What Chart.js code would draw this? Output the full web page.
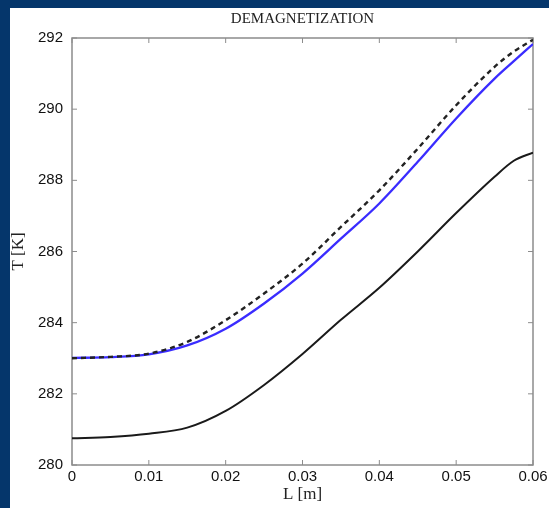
<!DOCTYPE html>
<html>
<head>
<meta charset="utf-8">
<script src="https://cdn.jsdelivr.net/npm/chart.js"></script>
<style>
body{margin:0;background:#05366b;width:549px;height:508px;overflow:hidden;}
#panel{position:absolute;left:10px;top:8px;width:539px;height:500px;background:#fff;}
</style>
</head>
<body>
<div id="panel"><canvas id="myChart" width="539" height="500"></canvas></div>
<script>
// data
const lengths = [0, 0.005, 0.01, 0.015, 0.02, 0.025, 0.03, 0.035, 0.04, 0.045, 0.05, 0.055, 0.0575, 0.06];
const tempBlue = [283.01, 283.03, 283.11, 283.36, 283.83, 284.54, 285.38, 286.36, 287.35, 288.52, 289.74, 290.86, 291.35, 291.83];
const tempDashed = [283.0, 283.04, 283.13, 283.46, 284.07, 284.82, 285.66, 286.69, 287.72, 288.89, 290.11, 291.19, 291.62, 291.95];
const tempBlack = [280.75, 280.79, 280.88, 281.05, 281.52, 282.25, 283.12, 284.08, 284.98, 286.0, 287.08, 288.1, 288.55, 288.78];
const xTicks = [0, 0.01, 0.02, 0.03, 0.04, 0.05, 0.06];
const yTicks = [280, 282, 284, 286, 288, 290, 292];

function pts(ys){
    return lengths.map(function(l, i){ return {x: l, y: ys[i]}; });
}

// box with inward ticks + titles (matlab look)
const frame = {
    id: 'frame',
    beforeDatasetsDraw: function(chart){
        const ctx = chart.ctx, a = chart.chartArea, x = chart.scales.x, y = chart.scales.y;
        ctx.save();
        ctx.strokeStyle = '#8c8c8c';
        ctx.lineWidth = 1.5;
        ctx.strokeRect(a.left, a.top, a.right - a.left, a.bottom - a.top);
        ctx.lineWidth = 1;
        ctx.beginPath();
        xTicks.forEach(function(v){
            let px = x.getPixelForValue(v);
            ctx.moveTo(px, a.bottom); ctx.lineTo(px, a.bottom - 5);
            ctx.moveTo(px, a.top); ctx.lineTo(px, a.top + 5);
        });
        yTicks.forEach(function(v){
            let py = y.getPixelForValue(v);
            ctx.moveTo(a.left, py); ctx.lineTo(a.left + 5, py);
            ctx.moveTo(a.right, py); ctx.lineTo(a.right - 5, py);
        });
        ctx.stroke();
        ctx.restore();
    },
    afterDraw: function(chart){
        const ctx = chart.ctx, a = chart.chartArea;
        let cx = (a.left + a.right) / 2;
        ctx.save();
        ctx.fillStyle = '#222';
        ctx.textAlign = 'center';
        ctx.textBaseline = 'middle';
        ctx.font = '15px "Liberation Serif"';
        ctx.fillText('DEMAGNETIZATION', cx, 11);
        ctx.font = '17px "Liberation Serif"';
        ctx.fillText('L [m]', cx, 487);
        ctx.translate(9, (a.top + a.bottom) / 2);
        ctx.rotate(-Math.PI / 2);
        ctx.fillText('T [K]', 0, 0);
        ctx.restore();
    }
};

var ctx = document.getElementById('myChart');
var chart = new Chart(ctx, {
    type: 'line',
    data: {
        datasets: [{
            data: pts(tempDashed),
            borderColor: '#222',
            borderWidth: 2.4,
            borderDash: [5, 4]
        }, {
            data: pts(tempBlue),
            borderColor: '#3a2cff',
            borderWidth: 2.3
        }, {
            data: pts(tempBlack),
            borderColor: '#1a1a1a',
            borderWidth: 2
        }]
    },
    options: {
        responsive: false,
        animation: false,
        cubicInterpolationMode: 'monotone',
        pointRadius: 0,
        layout: {padding: {top: 30, right: 16, left: 0, bottom: 0}},
        plugins: {legend: {display: false}, tooltip: {enabled: false}},
        scales: {
            x: {
                type: 'linear', min: 0, max: 0.06,
                grid: {display: false, drawTicks: false},
                border: {display: false},
                afterFit: function(s){ s.height = 43; s.paddingLeft = 0; s.paddingRight = 0; },
                afterBuildTicks: function(s){ s.ticks = xTicks.map(function(v){ return {value: v}; }); },
                ticks: {
                    padding: 3, color: '#111', maxRotation: 0,
                    font: {family: '"Liberation Sans"', size: 15},
                    callback: function(v){ return String(+v.toFixed(2)); }
                }
            },
            y: {
                min: 280, max: 292,
                grid: {display: false, drawTicks: false},
                border: {display: false},
                afterFit: function(s){ s.width = 62; },
                afterBuildTicks: function(s){ s.ticks = yTicks.map(function(v){ return {value: v}; }); },
                ticks: {
                    padding: 9, color: '#111',
                    font: {family: '"Liberation Sans"', size: 15}
                }
            }
        }
    },
    plugins: [frame]
});
</script>
</body>
</html>
